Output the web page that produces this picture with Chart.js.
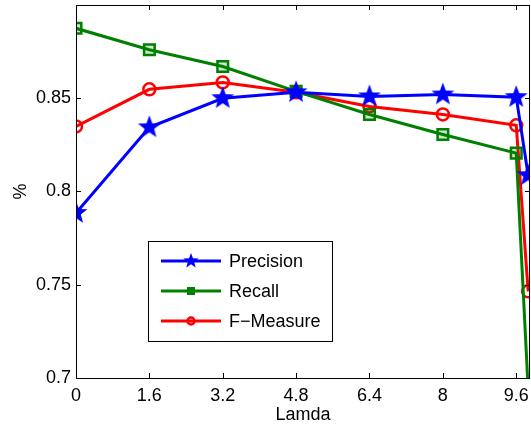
<!DOCTYPE html>
<html>
<head>
<meta charset="utf-8">
<script src="https://cdn.jsdelivr.net/npm/chart.js@4/dist/chart.umd.min.js"></script>
<style>
  html, body { margin: 0; padding: 0; background: #fff; }
  #wrap { width: 531px; height: 427px; }
</style>
</head>
<body>
<div id="wrap"><canvas id="c"></canvas></div>
<script>
// data
const lamda = [0, 1.6, 3.2, 4.8, 6.4, 8, 9.6, 9.86];
const precision = [0.7885, 0.8344, 0.8500, 0.8532, 0.8510, 0.8520, 0.8506, 0.8087];
const recall = [0.8875, 0.8760, 0.8670, 0.8537, 0.8413, 0.8306, 0.8206, 0.6940];
const fMeasure = [0.8349, 0.8548, 0.8585, 0.8532, 0.8456, 0.8413, 0.8355, 0.7465];
const xTicks = [0, 1.6, 3.2, 4.8, 6.4, 8, 9.6];
const yTicks = [0.7, 0.75, 0.8, 0.85];
const seriesNames = ['Precision', 'Recall', 'F\u2212Measure'];

const FONT = 'Liberation Sans, Arial, Helvetica, sans-serif';

// filled 5 point star as a point image
function makeStar(r, color) {
    const s = Math.ceil(r * 2 + 2);
    const cv = document.createElement('canvas');
    cv.width = s; cv.height = s;
    const g = cv.getContext('2d');
    g.fillStyle = color;
    g.beginPath();
    for (let i = 0; i < 10; i++) {
        const rr = i % 2 === 0 ? r : r * 0.42;
        const a = -Math.PI / 2 + i * Math.PI / 5;
        const px = s / 2 + rr * Math.cos(a), py = s / 2 + rr * Math.sin(a);
        if (i === 0) g.moveTo(px, py); else g.lineTo(px, py);
    }
    g.closePath();
    g.fill();
    return cv;
}
const bigStar = makeStar(12, '#0000ff');
const smallStar = makeStar(8, '#0000ff');

function pts(ys) { return lamda.map((x, i) => ({ x: x, y: ys[i] })); }

// frame with inward ticks, like matlab
const framePlugin = {
    id: 'frame',
    afterDatasetsDraw(chart) {
        const ctx = chart.ctx, a = chart.chartArea;
        const xs = chart.scales.x, ys = chart.scales.y;
        ctx.save();
        ctx.strokeStyle = '#000';
        ctx.lineWidth = 1;
        ctx.strokeRect(a.left + 0.5, a.top + 0.5, a.right - a.left - 1, a.bottom - a.top);
        ctx.beginPath();
        xTicks.forEach(v => {
            const px = Math.round(xs.getPixelForValue(v)) + 0.5;
            ctx.moveTo(px, a.bottom); ctx.lineTo(px, a.bottom - 5);
            ctx.moveTo(px, a.top); ctx.lineTo(px, a.top + 5);
        });
        yTicks.forEach(v => {
            const py = Math.round(ys.getPixelForValue(v)) + 0.5;
            ctx.moveTo(a.left, py); ctx.lineTo(a.left + 5, py);
            ctx.moveTo(a.right, py); ctx.lineTo(a.right - 5, py);
        });
        ctx.stroke();
        ctx.restore();
    }
};

// legend box inside the plot
const legendPlugin = {
    id: 'boxLegend',
    afterDraw(chart) {
        const ctx = chart.ctx;
        const bx = 148, by = 241, bw = 184, bh = 100;
        ctx.save();
        ctx.fillStyle = '#fff';
        ctx.fillRect(bx, by, bw, bh);
        ctx.strokeStyle = '#000';
        ctx.lineWidth = 1;
        ctx.strokeRect(bx + 0.5, by + 0.5, bw, bh);
        const colors = ['#0000ff', '#008000', '#ff0000'];
        seriesNames.forEach((name, i) => {
            const y = 261 + i * 30;
            ctx.strokeStyle = colors[i];
            ctx.lineWidth = 3;
            ctx.beginPath();
            ctx.moveTo(161, y); ctx.lineTo(221, y);
            ctx.stroke();
            if (i === 0) {
                ctx.drawImage(smallStar, 191 - smallStar.width / 2, y - smallStar.height / 2);
            } else if (i === 1) {
                ctx.fillStyle = colors[i];
                ctx.fillRect(187, y - 4, 8, 8);
            } else {
                ctx.lineWidth = 2.5;
                ctx.beginPath();
                ctx.arc(191, y, 3.5, 0, Math.PI * 2);
                ctx.stroke();
            }
            ctx.fillStyle = '#000';
            ctx.font = '18px ' + FONT;
            ctx.textBaseline = 'middle';
            ctx.textAlign = 'left';
            ctx.fillText(name, 229, y + 1);
        });
        ctx.restore();
    }
};

new Chart(document.getElementById('c'), {
    type: 'line',
    data: {
        datasets: [
            {
                label: seriesNames[0],
                data: pts(precision),
                borderColor: '#0000ff',
                borderWidth: 3,
                pointStyle: bigStar,
                pointRadius: 12
            },
            {
                label: seriesNames[1],
                data: pts(recall),
                borderColor: '#008000',
                backgroundColor: 'rgba(0,128,0,0.2)',
                borderWidth: 3,
                pointStyle: 'rect',
                pointRadius: 7.5,
                pointBorderWidth: 2.5
            },
            {
                label: seriesNames[2],
                data: pts(fMeasure),
                borderColor: '#ff0000',
                backgroundColor: 'rgba(255,255,255,0)',
                borderWidth: 3,
                pointStyle: 'circle',
                pointRadius: 6,
                pointBorderWidth: 2.5
            }
        ]
    },
    options: {
        responsive: true,
        maintainAspectRatio: false,
        animation: false,
        layout: { autoPadding: false, padding: { top: 5, right: 1, left: 0, bottom: 0 } },
        plugins: {
            legend: { display: false },
            tooltip: { enabled: false }
        },
        scales: {
            x: {
                type: 'linear',
                min: 0,
                max: 9.9,
                afterBuildTicks: s => { s.ticks = xTicks.map(v => ({ value: v })); },
                afterFit: s => { s.height = 49; s.paddingLeft = 0; s.paddingRight = 0; },
                grid: { display: false, drawTicks: false },
                border: { display: false },
                ticks: {
                    padding: 7,
                    color: '#000',
                    font: { family: FONT, size: 18 },
                    maxRotation: 0,
                    callback: v => String(v)
                },
                title: {
                    display: true,
                    text: 'Lamda',
                    color: '#000',
                    font: { family: FONT, size: 18 },
                    padding: { top: 0, bottom: 1 }
                }
            },
            y: {
                min: 0.7,
                max: 0.9,
                afterBuildTicks: s => { s.ticks = yTicks.map(v => ({ value: v })); },
                afterFit: s => { s.width = 76; s.paddingTop = 0; s.paddingBottom = 0; },
                grid: { display: false, drawTicks: false },
                border: { display: false },
                ticks: {
                    padding: 5,
                    color: '#000',
                    font: { family: FONT, size: 18 },
                    callback: v => String(v)
                },
                title: {
                    display: true,
                    text: '%',
                    color: '#000',
                    font: { family: FONT, size: 18 },
                    padding: { top: 10, bottom: 0 }
                }
            }
        }
    },
    plugins: [framePlugin, legendPlugin]
});
</script>
</body>
</html>
